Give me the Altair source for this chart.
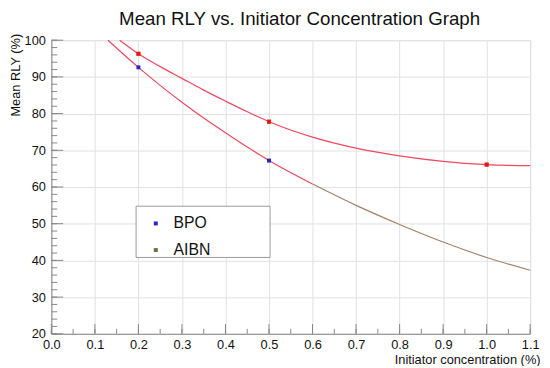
import altair as alt
import pandas as pd

# ---- data ----
aibn_fit_x = [0.157, 0.2, 0.25, 0.3, 0.35, 0.4, 0.45, 0.5, 0.6, 0.7, 0.8, 0.9, 1.0, 1.1]
aibn_fit_y = [100, 96.3, 92.8, 89.6, 86.4, 83.4, 80.5, 77.8, 73.6, 70.6, 68.5, 67.0, 66.1, 65.8]

bpo_fit_x = [0.13, 0.2, 0.25, 0.3, 0.35, 0.4, 0.45, 0.5, 0.6, 0.7, 0.8, 0.9, 1.0, 1.1]
bpo_fit_y = [100, 92.6, 87.7, 83.1, 78.8, 74.8, 70.9, 67.2, 60.8, 55.0, 49.8, 45.0, 40.8, 37.3]
bpo_split_x = 0.6  # where the lower curve changes colour

bpo_x = [0.2, 0.5]
bpo_y = [92.6, 67.2]
aibn_x = [0.2, 0.5, 1.0]
aibn_y = [96.3, 77.8, 66.1]

series = ["BPO", "AIBN"]

x_major = [i / 10 for i in range(12)]
x_minor = [i * 0.05 for i in range(23)]
y_major = list(range(20, 101, 10))
y_minor = list(range(20, 101, 2))

FONT = "Liberation Sans"
W, H = 486, 298

xs = alt.Scale(domain=[0, 1.1], nice=False, zero=False)
ys = alt.Scale(domain=[20, 100], nice=False, zero=False)

X_AXIS = alt.Axis(values=x_major, format=".1f", ticks=False, labelPadding=5,
                  labelFlush=False, labelOverlap=False,
                  labelFontSize=13, labelFont=FONT, labelColor="#111",
                  gridColor="#e2e2e2", domainColor="#888",
                  titleFont=FONT, titleFontSize=13, titleFontWeight="normal",
                  titleColor="#111", titleAlign="right", titleX=W + 10,
                  titleY=26, titleBaseline="middle", titleAnchor="end")
Y_AXIS = alt.Axis(values=y_major, ticks=False, labelPadding=6,
                  labelFlush=False, labelOverlap=False,
                  labelFontSize=13, labelFont=FONT, labelColor="#111",
                  gridColor="#e2e2e2", domainColor="#888",
                  titleFont=FONT, titleFontSize=13, titleFontWeight="normal",
                  titleColor="#111", titleAngle=270, titleAlign="right",
                  titleBaseline="middle", titleX=-36, titleY=-7)
X_TITLE = "Initiator concentration (%)"
Y_TITLE = "Mean RLY (%)"

XE = lambda f: alt.X(f, scale=xs, axis=X_AXIS, title=X_TITLE)
YE = lambda f: alt.Y(f, scale=ys, axis=Y_AXIS, title=Y_TITLE)

aibn_fit = pd.DataFrame({"x": aibn_fit_x, "y": aibn_fit_y})
bpo_fit = pd.DataFrame({"x": bpo_fit_x, "y": bpo_fit_y})
pts = pd.DataFrame({
    "x": bpo_x + aibn_x,
    "y": bpo_y + aibn_y,
    "series": ["BPO"] * len(bpo_x) + ["AIBN"] * len(aibn_x),
})
aibn_pts = pd.DataFrame({"x": aibn_x, "y": aibn_y})


def tick_layer(vals, chan, length, color="#888"):
    df = pd.DataFrame({"v": vals})
    if chan == "y":
        return alt.Chart(df).mark_rule(color=color, strokeWidth=1).encode(
            y=YE("v:Q"), x=alt.value(0), x2=alt.value(length))
    return alt.Chart(df).mark_rule(color=color, strokeWidth=1).encode(
        x=XE("v:Q"), y=alt.value(H), y2=alt.value(H - length))


yt_minor = tick_layer(y_minor, "y", 6)
yt_major = tick_layer(y_major, "y", 12)
xt_minor = tick_layer(x_minor, "x", 5)
xt_major = tick_layer(x_major, "x", 10)

upper = alt.Chart(aibn_fit).mark_line(color="#f0485e", strokeWidth=1.2, interpolate="monotone").encode(
    x=XE("x:Q"), y=YE("y:Q"))
lower_red = alt.Chart(bpo_fit).transform_filter(alt.datum.x <= bpo_split_x).mark_line(
    color="#f0485e", strokeWidth=1.2, interpolate="monotone").encode(
    x=XE("x:Q"), y=YE("y:Q"))
lower_brown = alt.Chart(bpo_fit).transform_filter(alt.datum.x >= bpo_split_x).mark_line(
    color="#a4816a", strokeWidth=1.2, interpolate="monotone").encode(
    x=XE("x:Q"), y=YE("y:Q"))

legend_box = alt.Chart(pd.DataFrame({"a": [0]})).mark_rect(
    fill="white", stroke="#999", strokeWidth=1).encode(
    x=alt.value(86), x2=alt.value(222), y=alt.value(168.5), y2=alt.value(220.5))

points = alt.Chart(pts).mark_square(size=16, opacity=1).encode(
    x=XE("x:Q"), y=YE("y:Q"),
    color=alt.Color("series:N", scale=alt.Scale(domain=series, range=["#2a22c8", "#7a6a3a"]),
                    legend=alt.Legend(title=None, orient="none", legendX=98, legendY=178,
                                      labelFont=FONT, labelFontSize=16, labelColor="#111",
                                      symbolType="square", symbolSize=16, symbolStrokeWidth=0,
                                      symbolOpacity=1, labelOffset=10, rowPadding=11,
                                      padding=0)))
aibn_red = alt.Chart(aibn_pts).mark_square(size=16, color="#ff1010", opacity=1).encode(
    x=XE("x:Q"), y=YE("y:Q"))

chart = alt.layer(
    legend_box, yt_minor, yt_major, xt_minor, xt_major,
    upper, lower_red, lower_brown, points, aibn_red,
).properties(
    width=W, height=H,
    title=alt.TitleParams("Mean RLY vs. Initiator Concentration Graph", font=FONT,
                          fontSize=19, fontWeight="normal", color="#111",
                          anchor="middle", dx=9, offset=4),
    autosize=alt.AutoSizeParams(type="none"),
    padding={"left": 44, "top": 30, "right": 12, "bottom": 30},
).configure_view(stroke="#aaaaaa", strokeWidth=1).configure(background="white")

chart.save("out.html", embed_options={"renderer": "svg", "actions": False})
